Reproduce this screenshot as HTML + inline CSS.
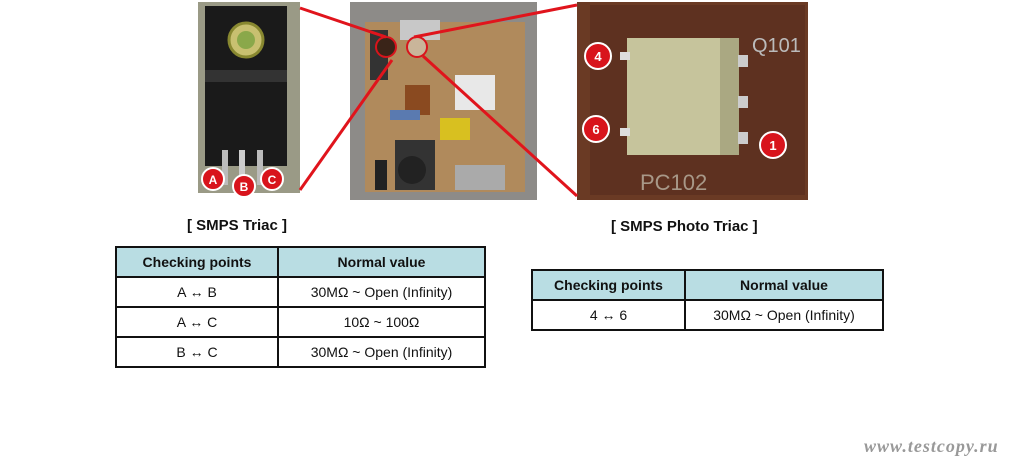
<!DOCTYPE html>
<html><head><meta charset="utf-8"><style>
body{margin:0;width:1016px;height:464px;background:#fff;position:relative;overflow:hidden;font-family:"Liberation Sans",Arial,sans-serif}
.t{position:absolute;border-collapse:collapse;font-size:14px;color:#111}
.t td{border:2px solid #111;text-align:center;padding:0}
.t tr.h td{background:#b9dde3;font-weight:bold}
.ttl{position:absolute;font-weight:bold;font-size:15px;color:#111}
</style></head><body>
<svg width="1016" height="210" style="position:absolute;left:0;top:0">
<rect x="198" y="2" width="102" height="191" fill="#9a9a86"/>
<rect x="205" y="6" width="82" height="160" fill="#1a1a1a"/>
<rect x="205" y="70" width="82" height="12" fill="#333"/>
<circle cx="246" cy="40" r="17" fill="#c8c070" stroke="#888830" stroke-width="3"/>
<circle cx="246" cy="40" r="9" fill="#8aa84a"/>
<rect x="222" y="150" width="6" height="35" fill="#bbb"/><rect x="239" y="150" width="6" height="35" fill="#ccc"/><rect x="257" y="150" width="6" height="35" fill="#bbb"/>
<g font-family="Liberation Sans,Arial" font-weight="bold" font-size="12" fill="#fff" text-anchor="middle" stroke-width="2">
<circle cx="213" cy="179" r="11" fill="#d8141c" stroke="#fff"/><text x="213" y="184" stroke="none">A</text>
<circle cx="244" cy="186" r="11" fill="#d8141c" stroke="#fff"/><text x="244" y="191" stroke="none">B</text>
<circle cx="272" cy="179" r="11" fill="#d8141c" stroke="#fff"/><text x="272" y="184" stroke="none">C</text>
</g>
<rect x="350" y="2" width="187" height="198" fill="#8d8b88"/>
<rect x="365" y="22" width="160" height="170" fill="#b08a5c"/>
<rect x="400" y="20" width="40" height="20" fill="#c8c8c8"/>
<rect x="370" y="30" width="18" height="50" fill="#333"/>
<rect x="455" y="75" width="40" height="35" fill="#e8e8e8"/>
<rect x="440" y="118" width="30" height="22" fill="#d8c020"/>
<rect x="395" y="140" width="40" height="50" fill="#333"/>
<circle cx="412" cy="170" r="14" fill="#222"/>
<rect x="405" y="85" width="25" height="30" fill="#8a4a20"/>
<rect x="375" y="160" width="12" height="30" fill="#222"/>
<rect x="455" y="165" width="50" height="25" fill="#aaa"/>
<rect x="390" y="110" width="30" height="10" fill="#5a7ab0"/>
<circle cx="386" cy="47" r="10" fill="#3a2418" stroke="#d8141c" stroke-width="2"/>
<circle cx="417" cy="47" r="10" fill="#c9b59a" stroke="#d8141c" stroke-width="2"/>
<rect x="577" y="2" width="231" height="198" fill="#6a3a24"/>
<rect x="590" y="5" width="215" height="190" fill="#5e3120"/>
<rect x="627" y="38" width="112" height="117" fill="#c6c49c"/>
<rect x="720" y="38" width="19" height="117" fill="#aaa882"/>
<rect x="620" y="52" width="10" height="8" fill="#ddd"/><rect x="620" y="128" width="10" height="8" fill="#ddd"/>
<rect x="738" y="55" width="10" height="12" fill="#ccc"/><rect x="738" y="96" width="10" height="12" fill="#ccc"/><rect x="738" y="132" width="10" height="12" fill="#ccc"/>
<text x="752" y="52" font-family="Liberation Sans,Arial" font-size="20" fill="#bbb">Q101</text>
<text x="640" y="190" font-family="Liberation Sans,Arial" font-size="22" fill="#a89888">PC102</text>
<g font-family="Liberation Sans,Arial" font-weight="bold" font-size="13" fill="#fff" text-anchor="middle">
<circle cx="598" cy="56" r="13" fill="#d8141c" stroke="#fff" stroke-width="2"/><text x="598" y="61">4</text>
<circle cx="596" cy="129" r="13" fill="#d8141c" stroke="#fff" stroke-width="2"/><text x="596" y="134">6</text>
<circle cx="773" cy="145" r="13" fill="#d8141c" stroke="#fff" stroke-width="2"/><text x="773" y="150">1</text>
</g>
<g stroke="#e0141c" stroke-width="3">
<line x1="300" y1="8" x2="386" y2="37"/>
<line x1="300" y1="190" x2="392" y2="60"/>
<line x1="577" y1="5" x2="414" y2="37"/>
<line x1="577" y1="196" x2="423" y2="56"/>
</g>
</svg>
<div class="ttl" style="left:187px;top:217px">[ SMPS Triac ]</div>
<div class="ttl" style="left:611px;top:218px">[ SMPS Photo Triac ]</div>
<table class="t" style="left:115px;top:246px;width:371px">
<tr class="h" style="height:30px"><td style="width:160px">Checking points</td><td>Normal value</td></tr>
<tr style="height:30px"><td>A ↔ B</td><td>30MΩ ~ Open (Infinity)</td></tr>
<tr style="height:30px"><td>A ↔ C</td><td>10Ω ~ 100Ω</td></tr>
<tr style="height:30px"><td>B ↔ C</td><td>30MΩ ~ Open (Infinity)</td></tr>
</table>
<table class="t" style="left:531px;top:269px;width:353px">
<tr class="h" style="height:30px"><td style="width:151px">Checking points</td><td>Normal value</td></tr>
<tr style="height:30px"><td>4 ↔ 6</td><td>30MΩ ~ Open (Infinity)</td></tr>
</table>
<div style="position:absolute;left:864px;top:436px;font-family:'Liberation Serif',serif;font-style:italic;font-weight:bold;font-size:18px;color:#999;letter-spacing:1px">www.testcopy.ru</div>
</body></html>
